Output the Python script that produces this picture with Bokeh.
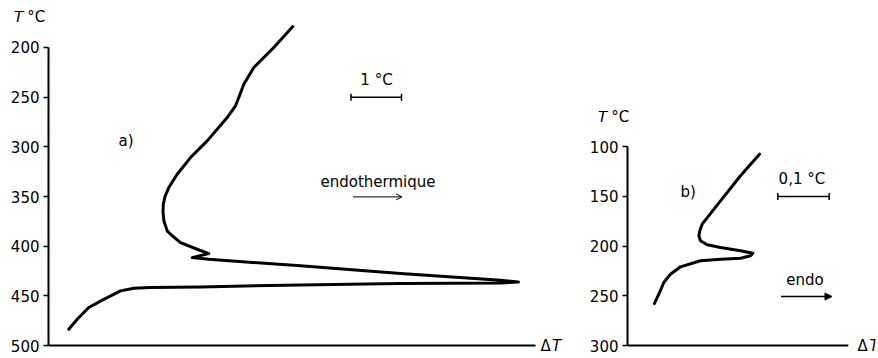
from bokeh.plotting import figure
from bokeh.layouts import row, column
from bokeh.models import Range1d, Label, Arrow, TeeHead, OpenHead, NormalHead, FixedTicker, Title, Spacer
from bokeh.embed import file_html
from bokeh.resources import INLINE

# ---- data: panel a) (DeltaT in degC from axis, T in degC) ----
a_dT = [4.886, 4.506, 4.106, 3.906, 3.806, 3.74, 3.574, 3.174, 2.84, 2.574, 2.406, 2.33,
        2.295, 2.29, 2.31, 2.374, 2.44, 2.64, 2.974, 3.206, 2.874, 3.206, 5.04, 7.04, 9.04, 9.4,
        9.04, 7.04, 5.04, 3.04, 2.04, 1.706, 1.44, 1.106, 0.806, 0.574, 0.406]
a_T = [178.9, 200.0, 220.1, 237.0, 250.4, 258.7, 270.5, 294.0, 310.8, 327.6, 341.0, 350.0,
       358.0, 366.0, 375.0, 384.6, 388.0, 396.4, 403.1, 407.5, 411.5, 413.2, 419.8, 427.6, 434.3, 436.0,
       437.0, 437.7, 439.0, 441.0, 441.7, 442.4, 445.0, 453.5, 461.8, 473.6, 483.7]
a_ticks = [200, 250, 300, 350, 400, 450, 500]
a_xend = 9.74

# ---- data: panel b) ----
b_dT = [0.2588, 0.2216, 0.1824, 0.1464, 0.1418, 0.1399, 0.1431, 0.1562, 0.1824, 0.2216,
        0.2457, 0.2412, 0.2216, 0.1824, 0.1431, 0.1039, 0.0843, 0.0712, 0.0614, 0.0529]
b_T = [107.4, 129.2, 154.4, 177.9, 184.6, 189.6, 194.6, 198.6, 201.4, 204.7,
       207.1, 209.7, 212.1, 213.1, 214.7, 220.8, 228.2, 236.6, 248.4, 257.7]
b_ticks = [100, 150, 200, 250, 300]
b_xend = 0.433

FONT = "DejaVu Sans"
FS = "15px"
H = 358
B_TOP = 100


def base_fig(width, height, mbl, mbr, xr, yr, ticks, xend):
    p = figure(width=width, height=height, x_range=Range1d(*xr), y_range=Range1d(*yr),
               output_backend="svg", toolbar_location=None, x_axis_location=None,
               min_border_left=mbl, min_border_right=mbr, min_border_top=23, min_border_bottom=2)
    p.grid.visible = False
    p.outline_line_color = None
    p.background_fill_color = "white"
    p.border_fill_color = "white"
    ya = p.yaxis[0]
    ya.bounds = (ticks[0], ticks[-1])
    ya.ticker = FixedTicker(ticks=ticks)
    ya.minor_tick_line_color = None
    ya.major_tick_out = 5
    ya.major_tick_in = 0
    ya.major_tick_line_width = 1.5
    ya.axis_line_width = 2
    ya.axis_line_color = "black"
    ya.major_tick_line_color = "black"
    ya.major_label_text_font = FONT
    ya.major_label_text_font_size = FS
    ya.major_label_text_color = "black"
    ya.major_label_standoff = 4
    # ΔT baseline (bottom axis line) at the lowest tick value
    p.segment(x0=[0], y0=[ticks[-1]], x1=[xend], y1=[ticks[-1]], line_width=2, line_color="black")
    return p


def lbl(p, x, y, text, italic=False, align="left"):
    p.add_layout(Label(x=x, y=y, text=text, text_font=FONT, text_font_size=FS,
                       text_font_style="italic" if italic else "normal",
                       text_baseline="middle", text_align=align, text_color="black"))


def ytitle(p, offset):
    p.add_layout(Title(text="𝘛 °C", align="left", offset=offset, standoff=-5,
                       text_font=FONT, text_font_size=FS, text_font_style="normal",
                       text_color="black"), "above")


# ---- panel a ----
pa = base_fig(575, H, 48, 5, (0, 10.44), (511.07, 175.84), a_ticks, a_xend)
pa.line(a_dT, a_T, line_width=3, line_color="black", line_join="round", line_cap="round")
ytitle(pa, -35)
lbl(pa, 1.4, 293.7, "a)")
lbl(pa, 6.56, 232.4, "1 °C", align="center")
pa.add_layout(Arrow(start=TeeHead(size=7, line_width=1.5), end=TeeHead(size=7, line_width=1.5),
                    x_start=6.05, y_start=250, x_end=7.06, y_end=250, line_width=1.5))
lbl(pa, 6.59, 335.5, "endothermique", align="center")
pa.add_layout(Arrow(end=OpenHead(size=6, line_width=1), x_start=6.09, y_start=350.4,
                    x_end=7.07, y_end=350.4, line_width=1))
lbl(pa, 9.84, 500, "Δ")
lbl(pa, 10.07, 500, "T", italic=True)

# ---- panel b ----
pb = base_fig(303, H - B_TOP, 52, 3, (0, 0.4863), (311.07, 76.55), b_ticks, b_xend)
pb.line(b_dT, b_T, line_width=3, line_color="black", line_join="round", line_cap="round")
ytitle(pb, -30)
lbl(pb, 0.104, 146, "b)")
lbl(pb, 0.342, 132, "0,1 °C", align="center")
pb.add_layout(Arrow(start=TeeHead(size=7, line_width=1.5), end=TeeHead(size=7, line_width=1.5),
                    x_start=0.2947, y_start=150, x_end=0.3955, y_end=150, line_width=1.5))
lbl(pb, 0.348, 234, "endo", align="center")
pb.add_layout(Arrow(end=NormalHead(size=7, fill_color="black", line_color="black"),
                    x_start=0.301, y_start=250.7, x_end=0.401, y_end=250.7, line_width=1.5))
lbl(pb, 0.451, 300.6, "Δ")
lbl(pb, 0.4745, 300.6, "T", italic=True)

layout = row(pa, column(Spacer(width=303, height=B_TOP), pb))
open("out.html", "w").write(file_html(layout, INLINE))
